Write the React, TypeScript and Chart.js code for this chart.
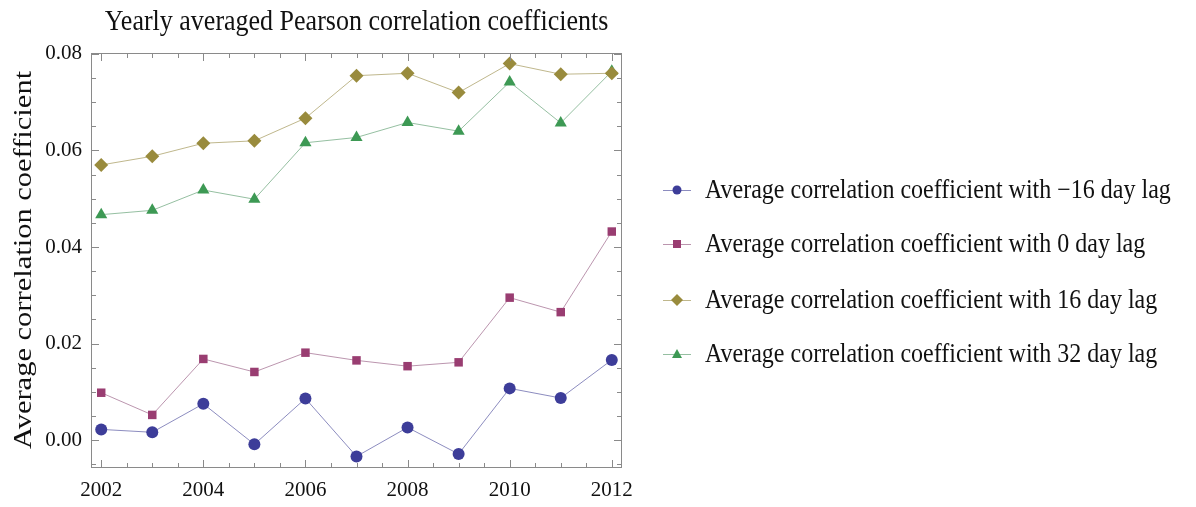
import React, { useEffect, useRef } from "react";
import { Chart, registerables } from "chart.js";

Chart.register(...registerables);

const years = [2002, 2003, 2004, 2005, 2006, 2007, 2008, 2009, 2010, 2011, 2012];
const lagMinus16 = [0.0022, 0.0016, 0.0075, -0.0009, 0.0086, -0.0034, 0.0026, -0.0029, 0.0107, 0.0087, 0.0166];
const lag0 = [0.0098, 0.0052, 0.0168, 0.0141, 0.0181, 0.0165, 0.0153, 0.0161, 0.0295, 0.0265, 0.0432];
const lag16 = [0.057, 0.0588, 0.0615, 0.062, 0.0667, 0.0755, 0.076, 0.072, 0.078, 0.0758, 0.076];
const lag32 = [0.0467, 0.0476, 0.0518, 0.0499, 0.0616, 0.0627, 0.0658, 0.064, 0.0742, 0.0657, 0.0764];

const seriesLabels = [
  "Average correlation coefficient with \u221216 day lag",
  "Average correlation coefficient with 0 day lag",
  "Average correlation coefficient with 16 day lag",
  "Average correlation coefficient with 32 day lag",
];
const xTickLabels = [2002, 2004, 2006, 2008, 2010, 2012];
const yTickLabels = [0.0, 0.02, 0.04, 0.06, 0.08];
const titleText = "Yearly averaged Pearson correlation coefficients";
const yTitleText = "Average correlation coefficient";

const colors = ["rgb(61,61,153)", "rgb(153,61,113)", "rgb(153,139,61)", "rgb(61,153,84)"];
const lineColors = ["rgba(120,120,180,0.85)", "rgba(175,130,160,0.85)", "rgba(180,170,120,0.85)", "rgba(130,180,145,0.85)"];
const pointStyles = ["circle", "rect", "rectRot", "triangle"];
const pointRadii = [6, 6, 7, 7];

const FONT = "'Liberation Serif', 'DejaVu Serif', serif";

function stretchedText(ctx: any, text: string, x: number, y: number, sy: number) {
  ctx.save();
  ctx.translate(x, y);
  ctx.scale(1, sy);
  ctx.fillText(text, 0, 0);
  ctx.restore();
}

const framePlugin = {
  id: "framePlugin",
  afterDraw(chart: any) {
    const { ctx, chartArea } = chart;
    const { left, right, top, bottom } = chartArea;
    const xs = chart.scales.x;
    const ys = chart.scales.y;
    ctx.save();
    ctx.strokeStyle = "#8a8a8a";
    ctx.lineWidth = 1;
    ctx.strokeRect(left + 0.5, top + 0.5, right - left - 1, bottom - top - 1);
    ctx.beginPath();
    for (let v = 2002; v <= 2012.001; v += 0.5) {
      const px = Math.round(xs.getPixelForValue(v)) + 0.5;
      const major = Math.abs(v - Math.round(v / 2) * 2) < 1e-6;
      const len = major ? 8 : 5;
      ctx.moveTo(px, bottom);
      ctx.lineTo(px, bottom - len);
      ctx.moveTo(px, top);
      ctx.lineTo(px, top + len);
    }
    for (let i = -1; i <= 16; i++) {
      const v = i * 0.005;
      if (v < ys.min || v > ys.max) continue;
      const py = Math.round(ys.getPixelForValue(v)) + 0.5;
      const major = i % 4 === 0;
      const len = major ? 8 : 5;
      ctx.moveTo(left, py);
      ctx.lineTo(left + len, py);
      ctx.moveTo(right, py);
      ctx.lineTo(right - len, py);
    }
    ctx.stroke();

    // title
    ctx.fillStyle = "#111";
    ctx.font = `26px ${FONT}`;
    ctx.textAlign = "center";
    ctx.textBaseline = "alphabetic";
    stretchedText(ctx, titleText, (left + right) / 2, 30, 1.15);

    // y axis title (rotated, stretched along its length)
    ctx.save();
    ctx.translate(31, 260);
    ctx.rotate(-Math.PI / 2);
    ctx.scale(1.22, 1);
    ctx.font = `25px ${FONT}`;
    ctx.textAlign = "center";
    ctx.textBaseline = "alphabetic";
    ctx.fillText(yTitleText, 0, 0);
    ctx.restore();

    // legend
    const rowsY = [190, 244, 300, 354];
    ctx.font = `24px ${FONT}`;
    ctx.textAlign = "left";
    ctx.textBaseline = "alphabetic";
    chart.data.datasets.forEach((ds: any, i: number) => {
      const y = rowsY[i];
      ctx.strokeStyle = lineColors[i];
      ctx.lineWidth = 1;
      ctx.beginPath();
      ctx.moveTo(663, y + 0.5);
      ctx.lineTo(691, y + 0.5);
      ctx.stroke();
      ctx.fillStyle = colors[i];
      ctx.beginPath();
      const cx = 677;
      if (i === 0) {
        ctx.arc(cx, y, 4.5, 0, Math.PI * 2);
      } else if (i === 1) {
        ctx.rect(cx - 4, y - 4, 8, 8);
      } else if (i === 2) {
        ctx.moveTo(cx, y - 6);
        ctx.lineTo(cx + 6, y);
        ctx.lineTo(cx, y + 6);
        ctx.lineTo(cx - 6, y);
        ctx.closePath();
      } else {
        ctx.moveTo(cx, y - 5);
        ctx.lineTo(cx + 5, y + 4);
        ctx.lineTo(cx - 5, y + 4);
        ctx.closePath();
      }
      ctx.fill();
      ctx.fillStyle = "#111";
      stretchedText(ctx, seriesLabels[i], 705, y + 8, 1.1);
    });
    ctx.restore();
  },
};

export default function App() {
  const ref = useRef<HTMLCanvasElement | null>(null);
  useEffect(() => {
    if (!ref.current) return;
    const series = [lagMinus16, lag0, lag16, lag32];
    const chart = new Chart(ref.current, {
      type: "line",
      data: {
        datasets: series.map((s, i) => ({
          label: seriesLabels[i],
          data: s.map((v, j) => ({ x: years[j], y: v })),
          borderColor: lineColors[i],
          backgroundColor: colors[i],
          pointBackgroundColor: colors[i],
          pointBorderColor: colors[i],
          pointBorderWidth: 0,
          pointStyle: pointStyles[i] as any,
          pointRadius: pointRadii[i],
          borderWidth: 1,
          tension: 0,
          fill: false,
        })),
      },
      options: {
        responsive: false,
        animation: false,
        layout: { padding: { left: 0, top: 53, right: 574, bottom: 0 } },
        plugins: { legend: { display: false }, tooltip: { enabled: false }, title: { display: false } },
        scales: {
          x: {
            type: "linear",
            min: 2001.8,
            max: 2012.2,
            grid: { display: false, drawTicks: false },
            border: { display: false },
            afterBuildTicks: (scale: any) => {
              scale.ticks = xTickLabels.map((v) => ({ value: v }));
            },
            afterFit: (scale: any) => {
              scale.height = 39;
            },
            ticks: {
              padding: 10,
              color: "#111",
              font: { family: FONT, size: 21 },
              maxRotation: 0,
              autoSkip: false,
              callback: (v: any) => String(v),
            },
          },
          y: {
            type: "linear",
            min: -0.0058,
            max: 0.0802,
            grid: { display: false, drawTicks: false },
            border: { display: false },
            afterBuildTicks: (scale: any) => {
              scale.ticks = yTickLabels.map((v) => ({ value: v }));
            },
            afterFit: (scale: any) => {
              scale.width = 91;
            },
            title: { display: false },
            ticks: {
              padding: 9,
              color: "#111",
              font: { family: FONT, size: 21 },
              autoSkip: false,
              callback: (v: any) => Number(v).toFixed(2),
            },
          },
        },
      },
      plugins: [framePlugin],
    });
    return () => chart.destroy();
  }, []);
  return (
    <div style={{ position: "fixed", left: 0, top: 0, width: 1196, height: 507, background: "#fff" }}>
      <canvas ref={ref} width={1196} height={507} style={{ display: "block" }} />
    </div>
  );
}
